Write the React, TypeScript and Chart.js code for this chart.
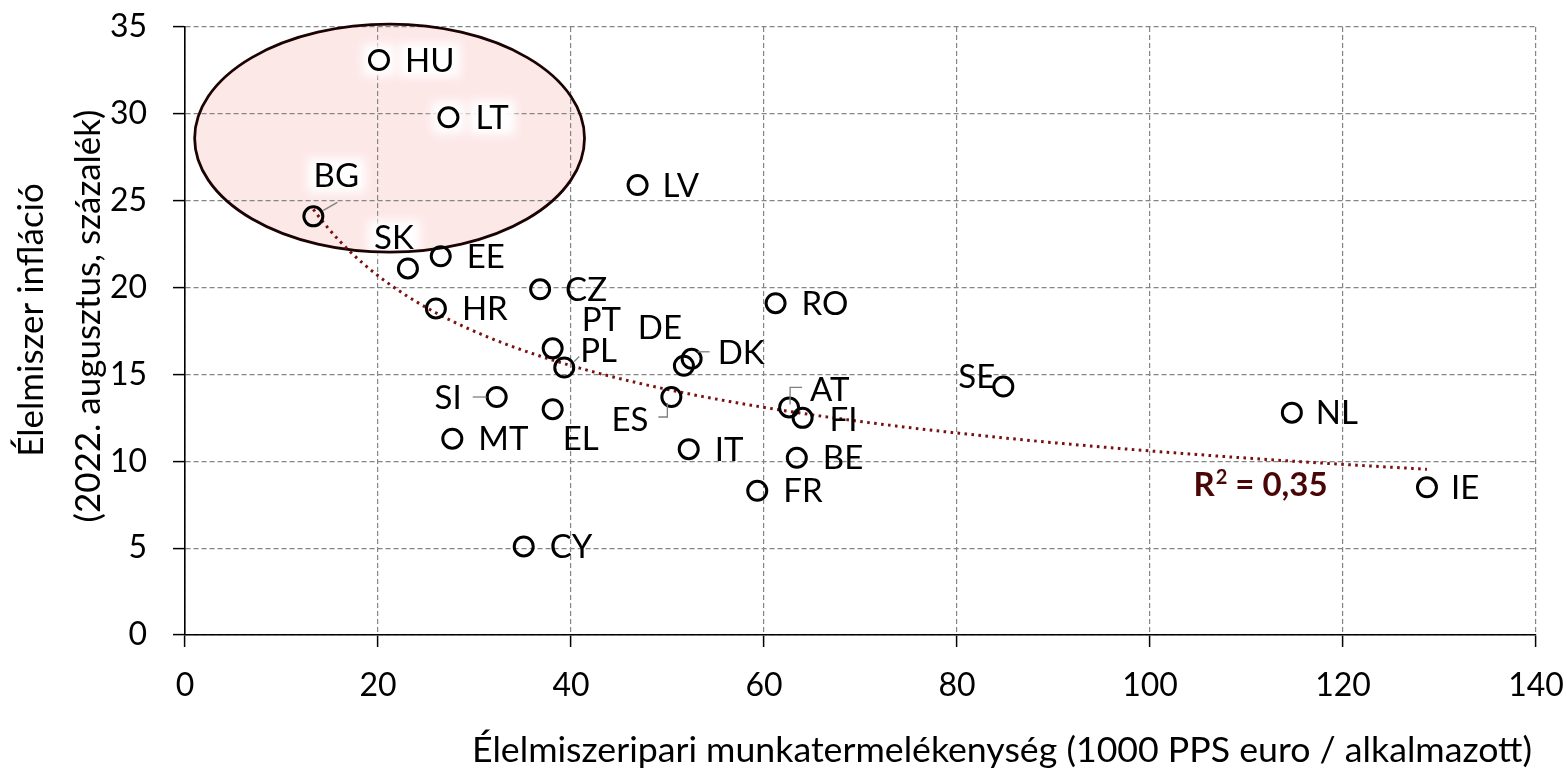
import React, { useEffect, useRef } from "react";
import { Chart, registerables } from "chart.js";

Chart.register(...registerables);

// ---- Data ----
const countries = [
  "HU", "LT", "BG", "LV", "SK", "EE", "CZ", "HR", "RO", "PT", "PL", "DE", "DK",
  "SI", "EL", "MT", "ES", "IT", "AT", "FI", "BE", "FR", "CY", "SE", "NL", "IE",
];
// Élelmiszeripari munkatermelékenység (1000 PPS euro / alkalmazott)
const productivity = [
  20.1, 27.3, 13.3, 46.9, 23.1, 26.5, 36.8, 26.0, 61.2, 38.1, 39.3, 51.7, 52.5,
  32.3, 38.1, 27.7, 50.4, 52.2, 62.6, 64.0, 63.4, 59.3, 35.1, 84.8, 114.7, 128.7,
];
// Élelmiszer infláció (2022. augusztus, százalék)
const foodInflation = [
  33.1, 29.8, 24.1, 25.9, 21.1, 21.8, 19.9, 18.8, 19.1, 16.5, 15.4, 15.5, 15.9,
  13.7, 13.0, 11.3, 13.7, 10.7, 13.1, 12.5, 10.2, 8.3, 5.1, 14.3, 12.8, 8.5,
];
const xTickValues = [0, 20, 40, 60, 80, 100, 120, 140];
const yTickValues = [0, 5, 10, 15, 20, 25, 30, 35];

const xTitle = "Élelmiszeripari munkatermelékenység (1000 PPS euro / alkalmazott)";
const yTitleLines = ["Élelmiszer infláció", "(2022. augusztus, százalék)"];
const r2Text = "0,35";

// ---- Annotation placement (styles / positions, kept apart from the data) ----
const FONT = "Lato";
const FS = 33;
const TICK_FS = 32;
const X_TITLE_FS = 35.7;
const Y_TITLE_FS = 35;

type Placement = {
  dx: number;
  dy: number;
  align: CanvasTextAlign;
  leader?: number[][];
  glow?: boolean;
};
const labelPlacement: Record<string, Placement> = {
  HU: { dx: 26, dy: 0, align: "left", glow: true },
  LT: { dx: 27, dy: 0, align: "left", glow: true },
  BG: { dx: 23, dy: -41, align: "center", leader: [[10, -6], [24, -14]], glow: true },
  LV: { dx: 25, dy: 0, align: "left" },
  SK: { dx: -14, dy: -31, align: "center", glow: true },
  EE: { dx: 26, dy: 0, align: "left" },
  CZ: { dx: 25, dy: 0, align: "left" },
  HR: { dx: 26, dy: 0, align: "left" },
  RO: { dx: 26, dy: 0, align: "left" },
  PT: { dx: 29, dy: -29, align: "left" },
  PL: { dx: 16, dy: -17, align: "left", leader: [[10, -6], [15, -11]] },
  DE: { dx: -24, dy: -38, align: "center" },
  DK: { dx: 26, dy: -6, align: "left", leader: [[6, -7], [18, -7]] },
  SI: { dx: -35, dy: 0, align: "right", leader: [[-24, 0], [-10, 0]] },
  EL: { dx: 10, dy: 29, align: "left" },
  MT: { dx: 26, dy: 0, align: "left" },
  ES: { dx: -23, dy: 22, align: "right", leader: [[-13, 20], [-4, 20], [-4, 6]] },
  IT: { dx: 26, dy: 0, align: "left" },
  AT: { dx: 21, dy: -18, align: "left", leader: [[1, -3], [1, -20], [13, -20]] },
  FI: { dx: 27, dy: 2, align: "left" },
  BE: { dx: 26, dy: 0, align: "left" },
  FR: { dx: 26, dy: 0, align: "left" },
  CY: { dx: 26, dy: 0, align: "left" },
  SE: { dx: -8, dy: -10, align: "right" },
  NL: { dx: 24, dy: 0, align: "left" },
  IE: { dx: 24, dy: 0, align: "left" },
};

// highlighted ellipse (data units)
const ellipse = { cx: 21.2, cy: 28.6, rx: 20.2, ry: 6.56 };
// R² label anchor (data units, left / baseline)
const r2Anchor = { x: 104.5, y: 8.0 };

function powerFit(xs: number[], ys: number[]) {
  const lx = xs.map(Math.log);
  const ly = ys.map(Math.log);
  const n = xs.length;
  const mx = lx.reduce((s, v) => s + v, 0) / n;
  const my = ly.reduce((s, v) => s + v, 0) / n;
  let sxy = 0;
  let sxx = 0;
  for (let i = 0; i < n; i++) {
    sxy += (lx[i] - mx) * (ly[i] - my);
    sxx += (lx[i] - mx) ** 2;
  }
  const b = sxy / sxx;
  const a = Math.exp(my - b * mx);
  return { a, b };
}

function ellipsePx(chart: any) {
  const x = chart.scales.x;
  const y = chart.scales.y;
  const cx = x.getPixelForValue(ellipse.cx);
  const cy = y.getPixelForValue(ellipse.cy);
  const rx = Math.abs(x.getPixelForValue(ellipse.cx + ellipse.rx) - cx);
  const ry = Math.abs(y.getPixelForValue(ellipse.cy + ellipse.ry) - cy);
  return { cx, cy, rx, ry };
}

const overlayPlugin = {
  id: "overlay",
  beforeDraw(chart: any) {
    const { ctx } = chart;
    const e = ellipsePx(chart);
    ctx.save();
    ctx.beginPath();
    ctx.ellipse(e.cx, e.cy, e.rx, e.ry, 0, 0, Math.PI * 2);
    ctx.fillStyle = "#fde8e8";
    ctx.fill();
    ctx.restore();
  },
  beforeDatasetsDraw(chart: any) {
    const { ctx, scales } = chart;
    const x = scales.x;
    const y = scales.y;
    ctx.save();
    ctx.font = `${FS}px ${FONT}`;
    // white halos
    ctx.filter = "blur(5px)";
    ctx.fillStyle = "#ffffff";
    countries.forEach((c, i) => {
      const p = labelPlacement[c];
      if (!p || !p.glow) return;
      const px = x.getPixelForValue(productivity[i]);
      const py = y.getPixelForValue(foodInflation[i]);
      const w = ctx.measureText(c).width;
      let lx = px + p.dx;
      if (p.align === "center") lx -= w / 2;
      if (p.align === "right") lx -= w;
      ctx.fillRect(lx - 6, py + p.dy - 17, w + 12, 34);
      if (p.dy === 0) ctx.fillRect(px - 16, py - 16, 32, 32);
    });
    ctx.filter = "none";
    ctx.restore();

    // ellipse border
    const e = ellipsePx(chart);
    ctx.save();
    ctx.beginPath();
    ctx.ellipse(e.cx, e.cy, e.rx, e.ry, 0, 0, Math.PI * 2);
    ctx.strokeStyle = "#1c0303";
    ctx.lineWidth = 2.8;
    ctx.stroke();
    ctx.restore();

    // power trendline
    const { a, b } = powerFit(productivity, foodInflation);
    const xmin = Math.min(...productivity);
    const xmax = Math.max(...productivity);
    ctx.save();
    ctx.beginPath();
    const steps = 300;
    for (let k = 0; k <= steps; k++) {
      const xv = xmin + ((xmax - xmin) * k) / steps;
      const yv = a * Math.pow(xv, b);
      const px = x.getPixelForValue(xv);
      const py = y.getPixelForValue(yv);
      if (k === 0) ctx.moveTo(px, py);
      else ctx.lineTo(px, py);
    }
    ctx.strokeStyle = "#7a1111";
    ctx.lineWidth = 3;
    ctx.setLineDash([2.6, 4.4]);
    ctx.stroke();
    ctx.restore();
  },
  afterDatasetsDraw(chart: any) {
    const { ctx, scales } = chart;
    const x = scales.x;
    const y = scales.y;
    ctx.save();
    // leaders
    ctx.strokeStyle = "#7f7f7f";
    ctx.lineWidth = 1.3;
    countries.forEach((c, i) => {
      const p = labelPlacement[c];
      if (!p || !p.leader) return;
      const px = x.getPixelForValue(productivity[i]);
      const py = y.getPixelForValue(foodInflation[i]);
      ctx.beginPath();
      p.leader.forEach((pt, k) => {
        if (k === 0) ctx.moveTo(px + pt[0], py + pt[1]);
        else ctx.lineTo(px + pt[0], py + pt[1]);
      });
      ctx.stroke();
    });
    // labels
    ctx.font = `${FS}px ${FONT}`;
    ctx.fillStyle = "#000";
    ctx.textBaseline = "middle";
    countries.forEach((c, i) => {
      const p = labelPlacement[c] || { dx: 26, dy: 0, align: "left" };
      const px = x.getPixelForValue(productivity[i]);
      const py = y.getPixelForValue(foodInflation[i]);
      ctx.textAlign = p.align;
      ctx.fillText(c, px + p.dx, py + p.dy + 1);
    });

    // R² label
    const rx = x.getPixelForValue(r2Anchor.x);
    const ry = y.getPixelForValue(r2Anchor.y);
    ctx.fillStyle = "#4a0606";
    ctx.textAlign = "left";
    ctx.textBaseline = "alphabetic";
    ctx.font = `bold ${FS}px ${FONT}`;
    ctx.fillText("R", rx, ry);
    let cur = rx + ctx.measureText("R").width;
    ctx.font = `bold ${Math.round(FS * 0.62)}px ${FONT}`;
    ctx.fillText("2", cur + 1, ry - 12);
    cur += ctx.measureText("2").width + 1;
    ctx.font = `bold ${FS}px ${FONT}`;
    ctx.fillText(" = " + r2Text, cur, ry);
    ctx.restore();
  },
  afterDraw(chart: any) {
    const { ctx } = chart;
    ctx.save();
    ctx.fillStyle = "#000";
    ctx.textBaseline = "alphabetic";
    // x title (right aligned to plot)
    ctx.font = `${X_TITLE_FS}px ${FONT}`;
    ctx.textAlign = "right";
    ctx.fillText(xTitle, chart.chartArea.right - 4, 762);
    // y title, rotated
    ctx.font = `${Y_TITLE_FS}px ${FONT}`;
    const centers = [320, 316];
    const baselines = [43, 100];
    ctx.textAlign = "center";
    yTitleLines.forEach((line, k) => {
      ctx.save();
      ctx.translate(baselines[k], centers[k]);
      ctx.rotate(-Math.PI / 2);
      ctx.fillText(line, 0, 0);
      ctx.restore();
    });
    ctx.restore();
  },
};

function zeroPadding(scale: any) {
  scale.paddingTop = 0;
  scale.paddingBottom = 0;
  scale.paddingLeft = 0;
  scale.paddingRight = 0;
}

export default function App() {
  const canvasRef = useRef<HTMLCanvasElement | null>(null);

  useEffect(() => {
    if (!canvasRef.current) return;
    const gridCommon = {
      color: "#858585",
      lineWidth: 1.2,
      tickColor: "#000",
      tickLength: 12,
      tickWidth: 1.5,
      tickBorderDash: [],
      drawTicks: true,
    };
    const chart = new Chart(canvasRef.current, {
      type: "scatter",
      data: {
        datasets: [
          {
            label: "EU",
            data: productivity.map((v, i) => ({ x: v, y: foodInflation[i] })),
            pointRadius: 9.5,
            pointHoverRadius: 9.5,
            pointBorderWidth: 3,
            borderColor: "#000",
            backgroundColor: "rgba(0,0,0,0)",
          },
        ],
      },
      options: {
        responsive: true,
        maintainAspectRatio: false,
        animation: false,
        layout: { padding: { top: 27, right: 31, left: 0, bottom: 0 } },
        plugins: {
          legend: { display: false },
          tooltip: { enabled: false },
          title: { display: false },
        },
        events: [],
        scales: {
          x: {
            type: "linear",
            min: 0,
            max: 140,
            afterBuildTicks: (scale: any) => {
              scale.ticks = xTickValues.map((v) => ({ value: v }));
            },
            afterFit: (scale: any) => {
              scale.height = 134;
              zeroPadding(scale);
            },
            ticks: {
              font: { family: FONT, size: TICK_FS },
              color: "#000",
              padding: 19,
              maxRotation: 0,
            },
            grid: { ...gridCommon } as any,
            border: { display: true, color: "#000", width: 1.6, dash: [5, 3] } as any,
          },
          y: {
            type: "linear",
            min: 0,
            max: 35,
            afterBuildTicks: (scale: any) => {
              scale.ticks = yTickValues.map((v) => ({ value: v }));
            },
            afterFit: (scale: any) => {
              scale.width = 185;
              zeroPadding(scale);
            },
            ticks: {
              font: { family: FONT, size: TICK_FS },
              color: "#000",
              padding: 26,
            },
            grid: { ...gridCommon } as any,
            border: { display: true, color: "#000", width: 1.6, dash: [5, 3] } as any,
          },
        },
      } as any,
      plugins: [overlayPlugin],
    });
    return () => chart.destroy();
  }, []);

  return (
    <div
      style={{
        position: "fixed",
        left: 0,
        top: 0,
        width: 1567,
        height: 769,
        background: "#fff",
      }}
    >
      <canvas ref={canvasRef} />
    </div>
  );
}
